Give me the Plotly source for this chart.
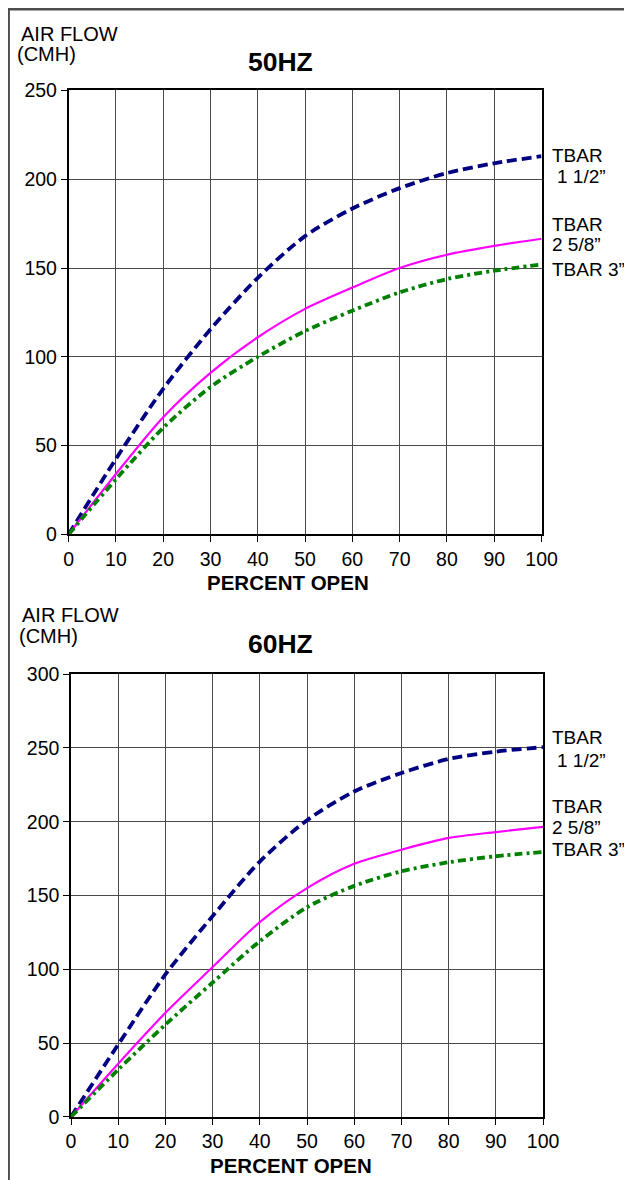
import plotly.graph_objects as go

# Empirical mapping between figure pixels and picture pixels (measured from previous renders)
SX, OX = 0.969, 12.6
SY, OY = 0.983, 17.9
W, H = 645, 1195

pct_open = [0, 10, 20, 30, 40, 50, 60, 70, 80, 90, 100]

hz50_tbar_1_5 = [0, 42.5, 82, 115.5, 144.5, 168, 183.5, 195, 203.5, 209, 213]
hz50_tbar_2_625 = [0, 34, 66, 91, 111, 127, 139, 150, 157.5, 162.5, 166.5]
hz50_tbar_3 = [0, 31, 60, 83, 100, 114.5, 126, 136.3, 143.8, 148.5, 152]

hz60_tbar_1_5 = [0, 49, 96.5, 136, 173, 201, 220.5, 233, 242.5, 247.5, 250.5]
hz60_tbar_2_625 = [0, 36, 70.5, 101.5, 132, 155, 171.5, 181, 189, 193, 196.5]
hz60_tbar_3 = [0, 32, 62.5, 91, 119, 142, 156.5, 166.4, 172.5, 176.6, 179.5]

x_ticks = [0, 10, 20, 30, 40, 50, 60, 70, 80, 90, 100]
y50_ticks = [0, 50, 100, 150, 200, 250]
y60_ticks = [0, 50, 100, 150, 200, 250, 300]

FONT = "Liberation Sans, Arial, Helvetica, sans-serif"

NAVY = "#000080"
PINK = "#FF00FF"
GREEN = "#008000"

fig = go.Figure()

def add_set(xa, ya, a, b, c):
    fig.add_trace(go.Scatter(x=pct_open, y=a, mode="lines", xaxis=xa, yaxis=ya,
                             line=dict(color=NAVY, width=3.8, dash="10px,5px", shape="spline", smoothing=0.8),
                             showlegend=False, hoverinfo="skip"))
    fig.add_trace(go.Scatter(x=pct_open, y=b, mode="lines", xaxis=xa, yaxis=ya,
                             line=dict(color=PINK, width=2.2, shape="spline", smoothing=0.8),
                             showlegend=False, hoverinfo="skip"))
    fig.add_trace(go.Scatter(x=pct_open, y=c, mode="lines", xaxis=xa, yaxis=ya,
                             line=dict(color=GREEN, width=3.8, dash="8px,4px,3px,4px", shape="spline", smoothing=0.8),
                             showlegend=False, hoverinfo="skip"))

add_set("x", "y", hz50_tbar_1_5, hz50_tbar_2_625, hz50_tbar_3)
add_set("x2", "y2", hz60_tbar_1_5, hz60_tbar_2_625, hz60_tbar_3)

def px(x):
    return ((x - OX) / SX) / W

def py(y):
    return 1 - ((y - OY) / SY) / H

axis_common = dict(showline=True, mirror=True, linecolor="black", linewidth=1.5,
                   showgrid=True, gridcolor="#4a4a4a", gridwidth=1,
                   ticks="outside", ticklen=6, tickcolor="black", tickwidth=1,
                   zeroline=False, tickfont=dict(family=FONT, size=19.5, color="black"))

fig.update_layout(
    width=W, height=H,
    margin=dict(l=0, r=0, t=0, b=0),
    paper_bgcolor="white", plot_bgcolor="white",
    font=dict(family=FONT, color="black"),
    xaxis=dict(domain=[px(68.3), px(542)], range=[0, 100], tickvals=x_ticks,
               anchor="y", **axis_common),
    yaxis=dict(domain=[py(534), py(89.5)], range=[0, 250], tickvals=y50_ticks,
               anchor="x", **axis_common),
    xaxis2=dict(domain=[px(70.7), px(543.5)], range=[0, 100], tickvals=x_ticks,
                anchor="y2", **axis_common),
    yaxis2=dict(domain=[py(1117.3), py(674)], range=[0, 300], tickvals=y60_ticks,
                anchor="x2", **axis_common),
)

ann = []
def text(x, y, s, size, bold=False, xanchor="left"):
    ann.append(dict(x=px(x), y=py(y), xref="paper", yref="paper", text=("<b>%s</b>" % s) if bold else s,
                    showarrow=False, xanchor=xanchor, yanchor="middle",
                    font=dict(family=FONT, size=size, color="black")))

LBL = 19

# Top chart texts
text(19, 33, "AIR FLOW", 20)
text(15, 53, "(CMH)", 20)
text(281, 61, "50HZ", 26.5, bold=True, xanchor="center")
text(288, 582, "PERCENT OPEN", 20.5, bold=True, xanchor="center")
text(550, 155, "TBAR", LBL)
text(555, 176, "1 1/2\u201d", LBL)
text(550, 224, "TBAR", LBL)
text(550, 244, "2 5/8\u201d", LBL)
text(550, 269, "TBAR 3\u201d", LBL)

# Bottom chart texts
text(20, 615, "AIR FLOW", 20)
text(17, 636, "(CMH)", 20)
text(281, 644, "60HZ", 26.5, bold=True, xanchor="center")
text(291, 1166, "PERCENT OPEN", 20.5, bold=True, xanchor="center")
text(550, 737, "TBAR", LBL)
text(555, 760, "1 1/2\u201d", LBL)
text(550, 807, "TBAR", LBL)
text(550, 828, "2 5/8\u201d", LBL)
text(550, 850, "TBAR 3\u201d", LBL)

fig.update_layout(annotations=ann)

# Frame border (left and top)
fig.add_shape(type="line", xref="paper", yref="paper", x0=px(7.5), x1=px(7.5), y0=py(6), y1=0,
              line=dict(color="#4d4d4d", width=4))
fig.add_shape(type="line", xref="paper", yref="paper", x0=px(5.5), x1=1, y0=py(7.5), y1=py(7.5),
              line=dict(color="#4d4d4d", width=4))

fig.write_html("out.html")
